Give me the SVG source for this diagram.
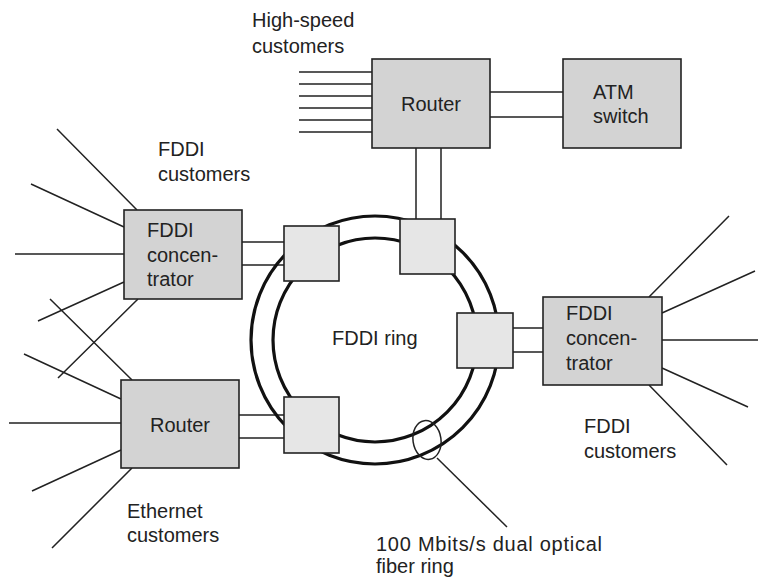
<svg xmlns="http://www.w3.org/2000/svg" width="758" height="579" viewBox="0 0 758 579">
<style>
.box{fill:#d3d3d3;stroke:#222;stroke-width:1.6}
.port{fill:#e6e6e6;stroke:#222;stroke-width:1.6}
.ln{stroke:#222;stroke-width:1.5;fill:none}
.ring{fill:none;stroke:#111;stroke-width:3.2}
text{font-family:"Liberation Sans",Arial,sans-serif;font-size:20px;fill:#222}
</style>
<rect width="758" height="579" fill="#fff"/>
<g id="connectors">
<path class="ln" d="M299 72H372M299 84H372M299 96H372M299 108H372M299 120H372M299 132H372"/>
<path class="ln" d="M490 92H563M490 117H563"/>
<path class="ln" d="M416 148V219M441 148V219"/>
<path class="ln" d="M57 129L137 210M31 184L124 227M15 254H124M38 321L124 282M138 299L58 378"/>
<path class="ln" d="M242 242H284M242 265H284"/>
<path class="ln" d="M50 299L132 380M24 354L121 399M9 423H121M32 491L121 450M52 548L132 468"/>
<path class="ln" d="M239 415H284M239 438H284"/>
<path class="ln" d="M513 328H543M513 352H543"/>
<path class="ln" d="M649 297L729 216M662 313L755 271M662 340H758M662 368L748 407M649 385L727 465"/>
<circle class="ring" cx="375" cy="340" r="124"/>
<circle class="ring" cx="375" cy="340" r="102"/>
<ellipse class="ln" cx="427" cy="440" rx="14" ry="19.5" transform="rotate(-8 427 440)"/>
<path class="ln" d="M437 458L507 527"/>
</g>
<g id="router-top">
<rect class="box" x="372" y="59" width="118" height="89"/>
<text x="401" y="111">Router</text>
</g>
<g id="atm-switch">
<rect class="box" x="563" y="59" width="118" height="89"/>
<text x="593" y="99">ATM</text>
<text x="593" y="123">switch</text>
</g>
<g id="concentrator-left">
<rect class="box" x="124" y="210" width="118" height="89"/>
<text x="147" y="237">FDDI</text>
<text x="147" y="262">concen-</text>
<text x="147" y="286">trator</text>
</g>
<g id="router-left">
<rect class="box" x="121" y="380" width="118" height="88"/>
<text x="150" y="432">Router</text>
</g>
<g id="concentrator-right">
<rect class="box" x="543" y="297" width="119" height="88"/>
<text x="566" y="320">FDDI</text>
<text x="566" y="345">concen-</text>
<text x="566" y="370">trator</text>
</g>
<g id="port-top"><rect class="port" x="400" y="219" width="55" height="55"/></g>
<g id="port-left"><rect class="port" x="284" y="226" width="55" height="55"/></g>
<g id="port-right"><rect class="port" x="457" y="313" width="56" height="55"/></g>
<g id="port-bottom"><rect class="port" x="284" y="397" width="55" height="56"/></g>
<g id="labels">
<text x="252" y="27">High-speed</text>
<text x="252" y="53">customers</text>
<text x="158" y="156">FDDI</text>
<text x="158" y="181">customers</text>
<text x="332" y="345">FDDI ring</text>
<text x="584" y="433">FDDI</text>
<text x="584" y="458">customers</text>
<text x="127" y="518">Ethernet</text>
<text x="127" y="542">customers</text>
<text x="376" y="551" textLength="226" lengthAdjust="spacing">100 Mbits/s dual optical</text>
<text x="376" y="573">fiber ring</text>
</g>
</svg>
